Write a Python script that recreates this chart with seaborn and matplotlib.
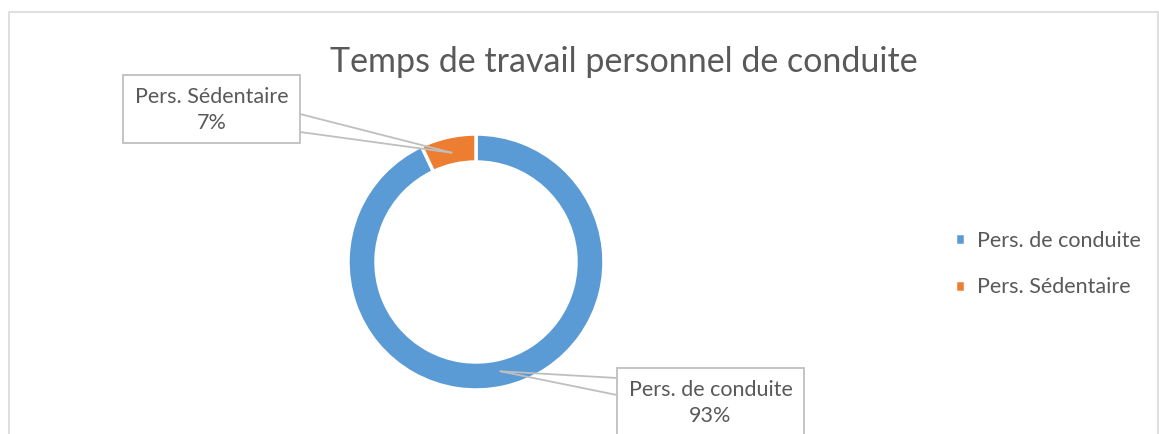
import numpy as np
import pandas as pd
import matplotlib
matplotlib.use('Agg')
import matplotlib.pyplot as plt
import seaborn as sns

categories = ['Pers. de conduite', 'Pers. Sédentaire']
shares = [93, 7]
pct_labels = ['93%', '7%']
title = 'Temps de travail personnel de conduite'

colors = ['#5B9BD5', '#ED7D31']
text_color = '#595959'
line_color = '#BFBFBF'

sns.set_style('white')
plt.rcParams['font.family'] = ['Lato', 'DejaVu Sans']

W, H = 1159, 434
fig = plt.figure(figsize=(W / 100, H / 100), dpi=100)
ax = fig.add_axes([0, 0, 1, 1])

# chart frame (bottom is cut off in the original)
ax.plot([9, 9, 1158, 1158], [0, H - 12, H - 12, 0], color='#D9D9D9', lw=1.2)

center = (476, H - 262)
radius = 128
ring = 28
wedges, _ = ax.pie(shares, colors=colors, startangle=90, counterclock=False,
                   center=center, radius=radius, frame=True,
                   wedgeprops=dict(width=ring, edgecolor='white', linewidth=2.5))
ax.set_xlim(0, W)
ax.set_ylim(0, H)
ax.set_aspect('equal')
ax.axis('off')

# data label callouts: box left/top/width/height in px, side x and attach y's
boxes = [
    dict(x=617, y=368, w=187, h=80, side=617, a1=378, a2=395),
    dict(x=123, y=75, w=177, h=68, side=300, a1=114, a2=132),
]
fs = 15.5
for w, cat, pct, b in zip(wedges, categories, pct_labels, boxes):
    mid = np.deg2rad((w.theta1 + w.theta2) / 2)
    r = radius - ring / 2 - 2
    tip = (center[0] + r * np.cos(mid), center[1] + r * np.sin(mid))
    for a in (b['a1'], b['a2']):
        ax.plot([b['side'], tip[0]], [H - a, tip[1]], color=line_color, lw=1.3, zorder=3)
    rect = plt.Rectangle((b['x'], H - b['y'] - b['h']), b['w'], b['h'],
                         facecolor='white', edgecolor=line_color, lw=1.3, zorder=4)
    ax.add_patch(rect)
    cx = b['x'] + b['w'] / 2
    ax.text(cx, H - b['y'] - 22, cat, ha='center', va='center',
            fontsize=fs, color=text_color, zorder=5)
    ax.text(cx, H - b['y'] - 48, pct, ha='center', va='center',
            fontsize=fs, color=text_color, zorder=5)

ax.text(624, H - 62, title, ha='center', va='center', fontsize=24.5, color=text_color)

leg = ax.legend(wedges, categories, loc='center left',
                bbox_to_anchor=(936, H - 264), bbox_transform=ax.transData,
                frameon=False, fontsize=fs, handlelength=0.45, handleheight=0.45,
                handletextpad=0.55, labelspacing=1.25)
for t in leg.get_texts():
    t.set_color(text_color)

fig.savefig('out.png', dpi=100)
